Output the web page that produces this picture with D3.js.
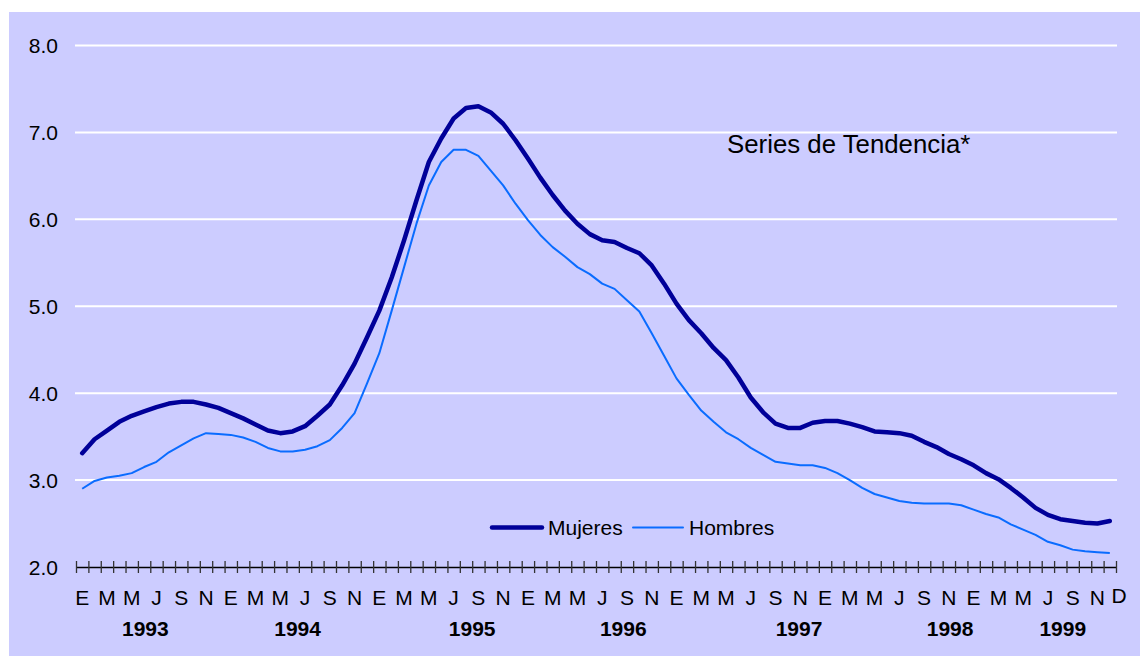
<!DOCTYPE html>
<html>
<head>
<meta charset="utf-8">
<script src="https://cdn.jsdelivr.net/npm/d3@7"></script>
<style>
  body { margin: 0; background: #fff; }
  text { font-family: Arial, "Liberation Sans", sans-serif; }
</style>
</head>
<body>
<div id="chart"></div>
<script>
// monthly trend series, Jan 1993 - Dec 1999
const mujeres = [
  3.31, 3.47, 3.57, 3.67, 3.74, 3.79, 3.84, 3.88, 3.90, 3.90, 3.87, 3.83,
  3.77, 3.71, 3.64, 3.57, 3.54, 3.56, 3.62, 3.74, 3.87, 4.09, 4.34, 4.64,
  4.95, 5.33, 5.76, 6.22, 6.66, 6.93, 7.16, 7.28, 7.30, 7.23, 7.10, 6.91,
  6.70, 6.48, 6.28, 6.10, 5.95, 5.83, 5.76, 5.74, 5.67, 5.61, 5.47, 5.26,
  5.03, 4.84, 4.69, 4.52, 4.38, 4.18, 3.95, 3.78, 3.65, 3.60, 3.60, 3.66,
  3.68, 3.68, 3.65, 3.61, 3.56, 3.55, 3.54, 3.51, 3.44, 3.38, 3.30, 3.24,
  3.17, 3.08, 3.01, 2.91, 2.80, 2.68, 2.60, 2.55, 2.53, 2.51, 2.50, 2.53
];
const hombres = [
  2.90, 2.99, 3.03, 3.05, 3.08, 3.15, 3.21, 3.32, 3.40, 3.48, 3.54, 3.53,
  3.52, 3.49, 3.44, 3.37, 3.33, 3.33, 3.35, 3.39, 3.46, 3.60, 3.77, 4.11,
  4.46, 4.95, 5.45, 5.95, 6.39, 6.66, 6.80, 6.80, 6.73, 6.56, 6.39, 6.18,
  5.99, 5.82, 5.68, 5.57, 5.45, 5.37, 5.26, 5.20, 5.07, 4.94, 4.69, 4.43,
  4.17, 3.98, 3.80, 3.67, 3.55, 3.47, 3.37, 3.29, 3.21, 3.19, 3.17, 3.17,
  3.14, 3.08, 3.00, 2.91, 2.84, 2.80, 2.76, 2.74, 2.73, 2.73, 2.73, 2.71,
  2.66, 2.61, 2.57, 2.49, 2.43, 2.37, 2.29, 2.25, 2.20, 2.18, 2.17, 2.16
];
const monthInitials = ["E", "F", "M", "A", "M", "J", "J", "A", "S", "O", "N", "D"];
const years = ["1993", "1994", "1995", "1996", "1997", "1998", "1999"];
// month index where each year label sits under the axis
const yearLabelAt = [5.6, 17.9, 32.0, 44.2, 58.4, 70.6, 79.7];
const yTicks = [2, 3, 4, 5, 6, 7, 8];

const width = 1140;
const height = 656;
const nMonths = mujeres.length;

const svg = d3.select("#chart")
    .append("svg")
    .attr("width", width)
    .attr("height", height);

svg.append("rect")
    .attr("x", 9).attr("y", 12)
    .attr("width", width - 9).attr("height", height - 12)
    .attr("fill", "#ccccff");

const x = d3.scaleLinear().domain([0, nMonths]).range([76, 1116]);
const y = d3.scaleLinear().domain([2, 8]).range([567, 45.5]);

// white gridlines
svg.selectAll("line.grid")
    .data(yTicks.filter(d => d > 2))
    .enter().append("line")
    .attr("class", "grid")
    .attr("x1", 75).attr("x2", 1117)
    .attr("y1", d => y(d)).attr("y2", d => y(d))
    .attr("stroke", "#fff")
    .attr("stroke-width", 2);

// y labels
svg.selectAll("text.ylab")
    .data(yTicks)
    .enter().append("text")
    .attr("class", "ylab")
    .attr("x", 58)
    .attr("y", d => y(d) + 7.5)
    .attr("text-anchor", "end")
    .style("font-size", "21px")
    .text(d => d.toFixed(1));

// x axis with a tick at each month boundary
const xAxis = d3.axisBottom(x)
    .tickValues(d3.range(0, nMonths + 1))
    .tickSizeInner(6)
    .tickSizeOuter(0)
    .tickFormat("");

const gx = svg.append("g")
    .attr("transform", `translate(0, ${y(2)})`)
    .call(xAxis);
gx.select(".domain").attr("stroke", "#000").attr("stroke-width", 1.3);
gx.selectAll(".tick line")
    .attr("y1", -6)
    .attr("y2", 6)
    .attr("stroke", "#333")
    .attr("stroke-width", 1.3);

// month initials every second month
const monthIdx = d3.range(0, nMonths, 2);
svg.selectAll("text.mlab")
    .data(monthIdx)
    .enter().append("text")
    .attr("class", "mlab")
    .attr("x", d => x(d + 0.5))
    .attr("y", 605)
    .attr("text-anchor", "middle")
    .style("font-size", "21px")
    .text(d => monthInitials[d % 12]);

svg.append("text")
    .attr("x", x(nMonths) + 3)
    .attr("y", 603)
    .attr("text-anchor", "middle")
    .style("font-size", "21px")
    .text(monthInitials[11]);

svg.selectAll("text.yr")
    .data(years)
    .enter().append("text")
    .attr("class", "yr")
    .attr("x", (d, i) => x(yearLabelAt[i]))
    .attr("y", 636)
    .attr("text-anchor", "middle")
    .style("font-size", "21px")
    .style("font-weight", "bold")
    .text(d => d);

// series
const line = d3.line()
    .x((d, i) => x(i + 0.5))
    .y(d => y(d));

svg.append("path")
    .datum(hombres)
    .attr("fill", "none")
    .attr("stroke", "#0a6cff")
    .attr("stroke-width", 2)
    .attr("stroke-linejoin", "round")
    .attr("d", line);

svg.append("path")
    .datum(mujeres)
    .attr("fill", "none")
    .attr("stroke", "#000099")
    .attr("stroke-width", 4.5)
    .attr("stroke-linejoin", "round")
    .attr("stroke-linecap", "round")
    .attr("d", line);

svg.append("text")
    .attr("x", 727)
    .attr("y", 153)
    .style("font-size", "25.8px")
    .text("Series de Tendencia*");

// legend
const legend = [
  { name: "Mujeres", color: "#000099", w: 4.5, x: 492 },
  { name: "Hombres", color: "#0a6cff", w: 2, x: 633 }
];
const lg = svg.selectAll("g.legend")
    .data(legend)
    .enter().append("g")
    .attr("class", "legend")
    .attr("transform", d => `translate(${d.x}, 527.5)`);
lg.append("line")
    .attr("x1", 0).attr("x2", 50)
    .attr("stroke", d => d.color)
    .attr("stroke-width", d => d.w)
    .attr("stroke-linecap", "round");
lg.append("text")
    .attr("x", 56)
    .attr("y", 7)
    .style("font-size", "21px")
    .text(d => d.name);
</script>
</body>
</html>
